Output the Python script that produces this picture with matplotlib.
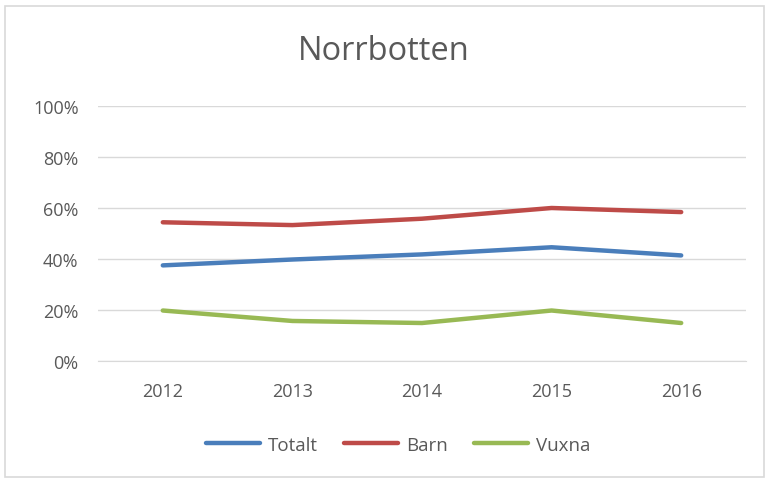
import matplotlib
matplotlib.use("Agg")
import matplotlib.pyplot as plt
from matplotlib.patches import Rectangle

years = ["2012", "2013", "2014", "2015", "2016"]
totalt = [37.5, 39.8, 41.8, 44.6, 41.4]
barn = [54.4, 53.3, 55.8, 60.0, 58.4]
vuxna = [19.8, 15.7, 14.9, 19.8, 14.9]
yticks = [0, 20, 40, 60, 80, 100]
ytick_labels = ["0%", "20%", "40%", "60%", "80%", "100%"]

plt.rcParams['font.family'] = ['Open Sans', 'DejaVu Sans']
txt = "#595959"

W, H = 767, 481
fig = plt.figure(figsize=(W / 100, H / 100), dpi=100)
fig.patch.set_facecolor("white")

# outer chart border
fig.patches.append(Rectangle((5 / W, 3 / H), (W - 8) / W, (H - 10) / H,
                             transform=fig.transFigure, fill=False,
                             edgecolor="#d9d9d9", linewidth=1.2))

left, right, top, bottom = 98, 746, 107, 362
ax = fig.add_axes([left / W, 1 - bottom / H, (right - left) / W, (bottom - top) / H])

x = list(range(len(years)))
series = [("Totalt", totalt, "#4A7EBB"), ("Barn", barn, "#BE4B48"), ("Vuxna", vuxna, "#98B954")]
for name, vals, col in series:
    ax.plot(x, vals, color=col, linewidth=3.2, solid_capstyle="round", label=name)

ax.set_xlim(-0.5, len(years) - 0.5)
ax.set_ylim(0, 100)
ax.set_yticks(yticks)
ax.set_yticklabels(ytick_labels)
ax.set_xticks(x)
ax.set_xticklabels(years)
ax.grid(axis="y", color="#d9d9d9", linewidth=1.0)
ax.set_axisbelow(True)
for s in ["top", "right", "left"]:
    ax.spines[s].set_visible(False)
ax.spines["bottom"].set_color("#d9d9d9")
ax.tick_params(axis="both", length=0, labelsize=13, colors=txt)
ax.tick_params(axis="y", pad=14)
ax.tick_params(axis="x", pad=15)

fig.text(0.5, 1 - 52 / H, "Norrbotten", ha="center", va="center", fontsize=23.5, color=txt)

leg = fig.legend(loc="center", bbox_to_anchor=(398 / W, 1 - 446 / H), ncol=3, frameon=False,
                 fontsize=13.5, handlelength=2.9, handletextpad=0.4, columnspacing=1.4)
for t in leg.get_texts():
    t.set_color(txt)

fig.savefig("out.png", dpi=100, facecolor="white")
